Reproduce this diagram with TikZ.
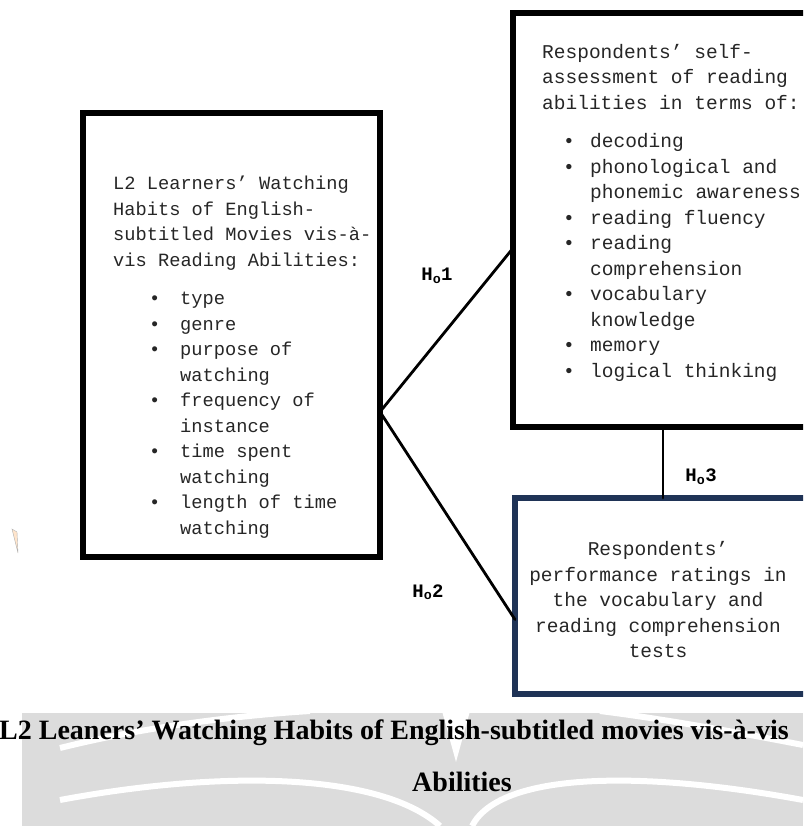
\documentclass[tikz,border=0pt]{standalone}
\usepackage{fontspec}
\newfontfamily\mono{Liberation Mono}
\newfontfamily\capfont{Liberation Serif}
\usetikzlibrary{positioning, calc}

\definecolor{navy}{HTML}{1F3356}
\definecolor{markgray}{HTML}{DCDCDC}

% bullets and hanging indents for the two lists
\newcommand{\lbul}{\makebox[67pt][l]{\hspace*{36pt}•}}
\newcommand{\lind}{\hspace*{67pt}}
\newcommand{\rbul}{\makebox[48pt][l]{\hspace*{21pt}•}}
\newcommand{\rind}{\hspace*{48pt}}

\begin{document}
\begin{tikzpicture}[
    x=1pt, y=-1pt,
    frame/.style={draw=black, line width=5.5pt, inner sep=0pt, outer sep=0pt},
    boxtext/.style={font=\mono\fontsize{19.5}{25.5}\selectfont, align=left,
                    inner sep=0pt, text=black!85},
    conn/.style={line width=2.8pt, line cap=round},
    hlabel/.style={font=\mono\bfseries\fontsize{19}{22}\selectfont, inner sep=0pt},
    capstyle/.style={font=\capfont\bfseries\fontsize{28}{32}\selectfont, inner sep=0pt}
  ]
  \useasboundingbox (0,0) rectangle (803,826);
  \clip (0,0) rectangle (803,826);

  % Watermark behind the caption
  \fill[markgray] (22,713) rectangle (803,826);
  \draw[white, line width=6pt] (60,748) .. controls (140,728) and (230,716) .. (310,711);
  \draw[white, line width=6pt] (803,745) .. controls (700,725) and (640,716) .. (600,711);
  \draw[white, line width=6pt] (60,800) .. controls (220,770) and (380,772) .. (440,826);
  \draw[white, line width=6pt] (803,800) .. controls (640,770) and (500,772) .. (472,826);
  \fill[white] (442,711) -- (456,762) -- (470,711) -- cycle;

  % Stray mark at the left
  \filldraw[fill=orange!20, draw=black!30] (12,529) -- (17,532) -- (18,553) -- cycle;

  % Boxes
  \node[frame, minimum width=297pt, minimum height=444pt] (lbox) at (231.5,335) {};
  \node[frame, minimum width=300pt, minimum height=414pt] (tbox) at (663,220) {};
  \node[frame, draw=navy, minimum width=300pt, minimum height=196pt] (bbox) at (665,596) {};

  % Box texts
  \node[boxtext, font=\mono\fontsize{18.7}{25.5}\selectfont, anchor=north west] (ltext) at (113,176) {L2 Learners’ Watching\\Habits of English-\\subtitled Movies vis-à-\\vis Reading Abilities:\\[13pt]
    \lbul type\\\lbul genre\\\lbul purpose of\\\lind watching\\\lbul frequency of\\\lind instance\\
    \lbul time spent\\\lind watching\\\lbul length of time\\\lind watching};
  \node[boxtext, anchor=north west] (ttext) at (542,44) {Respondents’ self-\\assessment of reading\\abilities in terms of:\\[13pt]
    \rbul decoding\\\rbul phonological and\\\rind phonemic awareness\\\rbul reading fluency\\
    \rbul reading\\\rind comprehension\\\rbul vocabulary\\\rind knowledge\\\rbul memory\\\rbul logical thinking};
  \node[boxtext, align=center] (btext) at (658,600) {Respondents’\\performance ratings in\\the vocabulary and\\reading comprehension\\tests};

  % Connectors
  \coordinate (fork) at ($(lbox.north east)!0.673!(lbox.south east)$);
  \coordinate (h1end) at ($(tbox.north west)!0.568!(tbox.south west)$);
  \coordinate (h2end) at ($(bbox.north west)!0.62!(bbox.south west)$);
  \draw[conn] (fork) -- (h1end);
  \draw[conn] (fork) -- (h2end);
  \draw[conn] (tbox.south -| 663,0) -- (bbox.north -| 663,0);

  % Hypothesis labels
  \node[hlabel] (h1) at (437,276) {H\textsubscript{o}1};
  \node[hlabel] (h2) at (428,592) {H\textsubscript{o}2};
  \node[hlabel] (h3) at (701,477) {H\textsubscript{o}3};

  % Caption
  \node[capstyle, anchor=west] (cap1) at (-1,733) {L2 Leaners’ Watching Habits of English-subtitled movies vis-à-vis};
  \node[capstyle] (cap2) at (462,782) {Abilities};
\end{tikzpicture}
\end{document}
